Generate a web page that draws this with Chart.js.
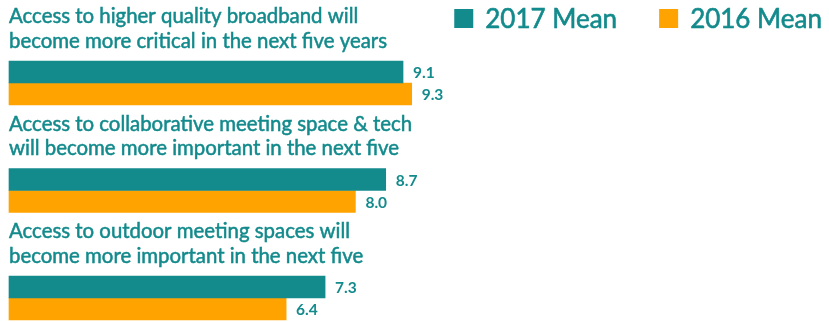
<!DOCTYPE html>
<html>
<head>
<meta charset="utf-8">
<script src="https://cdn.jsdelivr.net/npm/chart.js@4/dist/chart.umd.min.js"></script>
<style>
  html, body { margin: 0; padding: 0; background: #fff; }
  #wrap { width: 829px; height: 322px; }
</style>
</head>
<body>
<div id="wrap"><canvas id="myChart" width="829" height="322"></canvas></div>
<script>
// statements (each one drawn on two lines above its pair of bars)
const categories = [
    ['Access to higher quality broadband will', 'become more critical in the next five years'],
    ['Access to collaborative meeting space & tech', 'will become more important in the next five'],
    ['Access to outdoor meeting spaces will', 'become more important in the next five']
];
const mean2017 = [9.1, 8.7, 7.3];
const mean2016 = [9.3, 8.0, 6.4];
const seriesNames = ['2017 Mean', '2016 Mean'];

const TEAL = '#138a8c';
const ORANGE = '#ffa300';
const FONT = 'Lato, "Open Sans", sans-serif';

// texto un poco mas grueso que el regular
function textoGrueso(ctx, txt, x, y) {
    ctx.fillText(txt, x, y);
    ctx.strokeText(txt, x, y);
}

// texto de las categorias encima de cada grupo, valores al final de cada barra y leyenda
const labelsPlugin = {
    id: 'groupLabels',
    afterDatasetsDraw(chart) {
        const ctx = chart.ctx;
        const yScale = chart.scales.y;
        ctx.save();
        ctx.fillStyle = TEAL;
        ctx.strokeStyle = TEAL;
        ctx.lineWidth = 0.5;
        ctx.textAlign = 'left';
        ctx.textBaseline = 'alphabetic';
        ctx.font = '20.4px ' + FONT;
        categories.forEach((lines, i) => {
            const cy = yScale.getPixelForValue(i);
            textoGrueso(ctx, lines[0], 9, cy - 60);
            textoGrueso(ctx, lines[1], 9, cy - 35.5);
        });

        ctx.font = 'bold 15.5px ' + FONT;
        ctx.textBaseline = 'middle';
        chart.data.datasets.forEach((ds, d) => {
            chart.getDatasetMeta(d).data.forEach((bar, i) => {
                ctx.fillText(ds.data[i].toFixed(1), bar.x + 10, bar.y + 1);
            });
        });

        // leyenda arriba a la derecha
        ctx.font = '26px ' + FONT;
        ctx.textBaseline = 'alphabetic';
        ctx.lineWidth = 0.6;
        let right = 822;
        for (let d = chart.data.datasets.length - 1; d >= 0; d--) {
            const ds = chart.data.datasets[d];
            const w = ctx.measureText(ds.label).width;
            const tx = right - w;
            ctx.fillStyle = TEAL;
            textoGrueso(ctx, ds.label, tx, 27.5);
            ctx.fillStyle = ds.backgroundColor;
            ctx.fillRect(tx - 31, 9, 19, 19);
            right = tx - 31 - 42;
        }
        ctx.restore();
    }
};

const ctx = document.getElementById('myChart').getContext('2d');
const chart = new Chart(ctx, {
    type: 'bar',
    data: {
        labels: categories.map(c => c.join(' ')),
        datasets: [
            { label: seriesNames[0], data: mean2017, backgroundColor: TEAL, barThickness: 22, clip: false },
            { label: seriesNames[1], data: mean2016, backgroundColor: ORANGE, barThickness: 22, clip: false }
        ]
    },
    options: {
        indexAxis: 'y',
        responsive: false,
        animation: false,
        layout: { padding: { left: 9, right: 387, top: 83, bottom: 24 } },
        scales: {
            x: { min: 0, max: 10, display: false },
            y: { offset: false, display: false }
        },
        plugins: {
            tooltip: { enabled: false },
            legend: { display: false }
        }
    },
    plugins: [labelsPlugin]
});
</script>
</body>
</html>
